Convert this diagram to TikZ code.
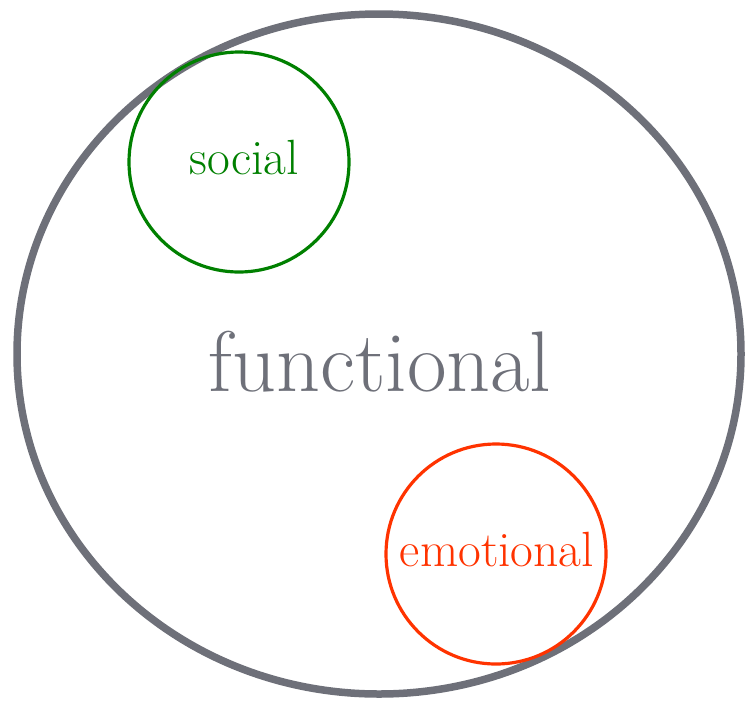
\documentclass[tikz,border=0pt]{standalone}
\usepackage{fontspec}
\usepackage{xcolor}
\usepackage{tikz}
\usetikzlibrary{positioning}
\definecolor{outergray}{HTML}{6E7079}
\definecolor{socialgreen}{HTML}{008000}
\definecolor{emored}{HTML}{FF3300}
\tikzset{
	ring/.style = {circle, minimum size = 220pt, line width = 3.2pt, inner sep = 0pt},
	ringlabel/.style = {font = \fontsize{49.5}{52}\selectfont}
}
\begin{document}
\begin{tikzpicture}[x = 1pt, y = -1pt]
			\useasboundingbox (0, 0) rectangle (746, 702);
			% outer set
			\draw [outergray, line width = 7.5pt] (379, 354) ellipse [x radius = 362, y radius = 340];
			\node [outergray, font = \fontsize{86}{90}\selectfont] (functional) at (380, 362) {functional};
			% inner sets
			\node [ring, draw = socialgreen] (social) at (239, 162) {};
			\node [ringlabel, socialgreen] (sociallabel) at (244, 158) {social};
			\node [ring, draw = emored] (emotional) at (496, 554) {};
			\node [ringlabel, emored] (emotionallabel) at (497, 550) {emotional};
		\end{tikzpicture}
\end{document}
